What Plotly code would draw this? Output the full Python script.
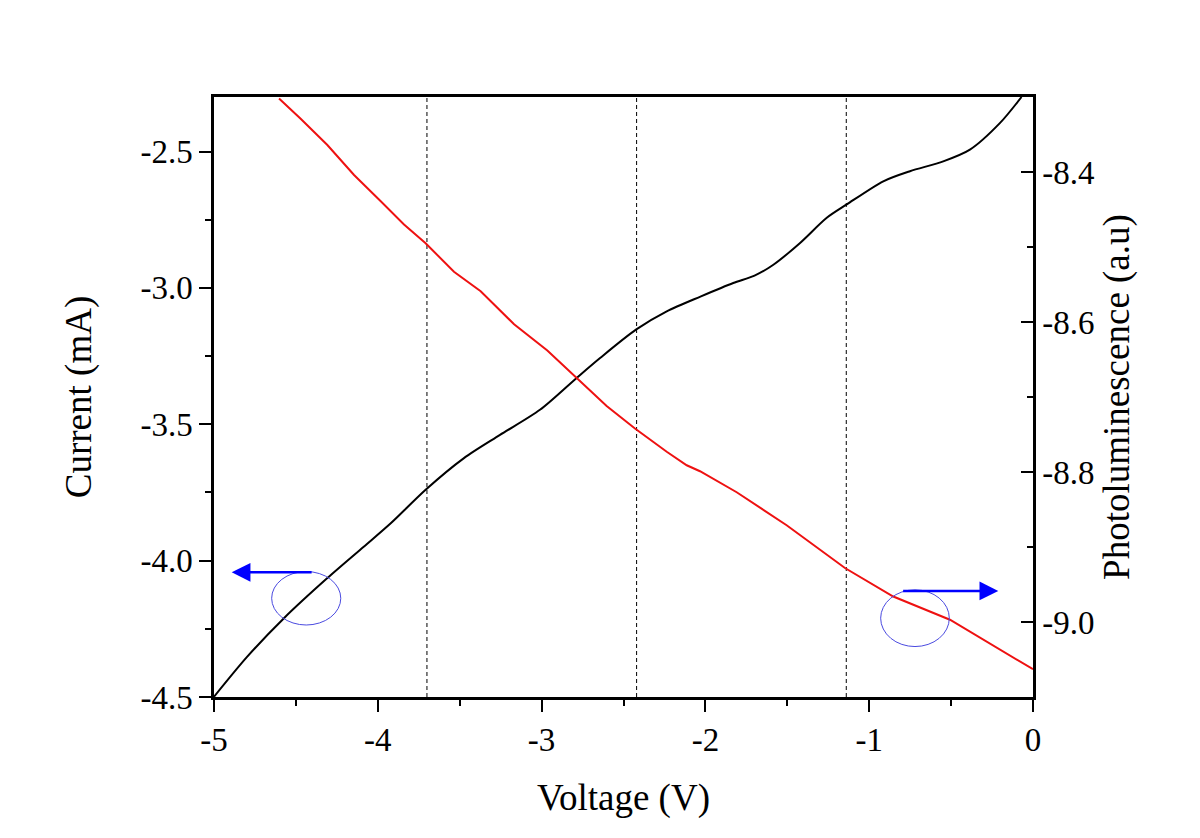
import plotly.graph_objects as go

# Current (left axis) vs voltage
v_current = [-5.0, -4.797, -4.573, -4.308, -4.084, -3.921, -3.708, -3.474, -3.254, -3.010,
             -2.786, -2.643, -2.424, -2.236, -2.027, -1.830, -1.700, -1.585, -1.422, -1.259, -1.137,
             -0.914, -0.751, -0.548, -0.385, -0.201, -0.07]
current = [-4.499, -4.352, -4.211, -4.064, -3.948, -3.863, -3.740, -3.624, -3.539, -3.447,
           -3.330, -3.257, -3.153, -3.086, -3.031, -2.982, -2.955, -2.915, -2.835, -2.743, -2.694,
           -2.609, -2.572, -2.536, -2.493, -2.395, -2.300]

# Photoluminescence (right axis) vs voltage
v_pl = [-4.603, -4.471, -4.308, -4.145, -3.982, -3.840, -3.708, -3.535, -3.372, -3.168,
        -2.965, -2.782, -2.603, -2.430, -2.236, -2.114, -2.033, -1.809, -1.504, -1.148,
        -0.853, -0.507, -0.283, 0.0]
pl = [-8.302, -8.329, -8.364, -8.404, -8.439, -8.470, -8.495, -8.533, -8.559, -8.603,
      -8.638, -8.676, -8.712, -8.742, -8.773, -8.791, -8.799, -8.827, -8.871, -8.928,
      -8.966, -8.997, -9.026, -9.063]

# Dashed reference voltages
v_marks = [-3.70, -2.42, -1.14]

x_ticks = [-5, -4, -3, -2, -1, 0]
x_tick_text = ["-5", "-4", "-3", "-2", "-1", "0"]
y1_ticks = [-4.5, -4.0, -3.5, -3.0, -2.5]
y1_tick_text = ["-4.5", "-4.0", "-3.5", "-3.0", "-2.5"]
y2_ticks = [-9.0, -8.8, -8.6, -8.4]
y2_tick_text = ["-9.0", "-8.8", "-8.6", "-8.4"]

FONT = "Liberation Serif"
TICK_SIZE = 33
TITLE_SIZE = 37

fig = go.Figure()
fig.add_trace(go.Scatter(x=v_current, y=current, mode="lines",
                         line=dict(color="black", width=2, shape="spline", smoothing=0.8),
                         showlegend=False, yaxis="y"))
fig.add_trace(go.Scatter(x=v_pl, y=pl, mode="lines",
                         line=dict(color="#ee1111", width=2),
                         showlegend=False, yaxis="y2"))

for vm in v_marks:
    fig.add_shape(type="line", xref="x", yref="paper", x0=vm, x1=vm, y0=0, y1=1,
                  line=dict(color="black", width=1, dash="4px,3px"), layer="below")

# Ellipses marking curves
fig.add_shape(type="circle", xref="x", yref="y", x0=-4.648, x1=-4.226, y0=-4.236, y1=-4.040,
              line=dict(color="#4a4ae0", width=1))
fig.add_shape(type="circle", xref="x", yref="y", x0=-0.930, x1=-0.511, y0=-4.315, y1=-4.107,
              line=dict(color="#4a4ae0", width=1))

# Arrows
fig.add_annotation(x=-4.892, y=-4.043, ax=-4.395, ay=-4.043, xref="x", yref="y",
                   axref="x", ayref="y", text="", showarrow=True, arrowhead=2,
                   arrowsize=1.5, arrowwidth=2.5, arrowcolor="#0000ff")
fig.add_annotation(x=-0.212, y=-4.111, ax=-0.802, ay=-4.111, xref="x", yref="y",
                   axref="x", ayref="y", text="", showarrow=True, arrowhead=2,
                   arrowsize=1.5, arrowwidth=2.5, arrowcolor="#0000ff")

fig.update_layout(
    width=1200, height=838,
    margin=dict(l=206, r=175, t=89, b=149),
    paper_bgcolor="white", plot_bgcolor="white",
    font=dict(family=FONT, color="black", size=TICK_SIZE),
    xaxis=dict(range=[-5, 0], tickmode="array", tickvals=x_ticks, ticktext=x_tick_text,
               ticks="outside", ticklen=12, tickwidth=2, tickcolor="black",
               showline=True, linecolor="black", linewidth=2.5, mirror=True,
               showgrid=False, zeroline=False,
               minor=dict(tickmode="linear", tick0=-5, dtick=0.5, ticks="outside",
                          ticklen=6, tickwidth=2, tickcolor="black", showgrid=False),
               tickfont=dict(size=TICK_SIZE, family=FONT),
               title=dict(text="Voltage (V)", font=dict(size=TITLE_SIZE, family=FONT), standoff=27)),
    yaxis=dict(range=[-4.5, -2.3], tickmode="array", tickvals=y1_ticks, ticktext=y1_tick_text,
               ticks="outside", ticklen=12, tickwidth=2, tickcolor="black",
               showline=True, linecolor="black", linewidth=2.5,
               showgrid=False, zeroline=False,
               minor=dict(tickmode="linear", tick0=-4.5, dtick=0.25, ticks="outside",
                          ticklen=6, tickwidth=2, tickcolor="black", showgrid=False),
               tickfont=dict(size=TICK_SIZE, family=FONT),
               title=dict(text="Current (mA)", font=dict(size=TITLE_SIZE, family=FONT), standoff=38)),
    yaxis2=dict(range=[-9.1, -8.3], overlaying="y", side="right",
                tickmode="array", tickvals=y2_ticks, ticktext=y2_tick_text,
                ticks="inside", ticklen=12, tickwidth=2, tickcolor="black",
                showline=True, linecolor="black", linewidth=2.5,
                showgrid=False, zeroline=False,
                minor=dict(tickmode="linear", tick0=-9.0, dtick=0.1, ticks="inside",
                           ticklen=6, tickwidth=2, tickcolor="black", showgrid=False),
                tickfont=dict(size=TICK_SIZE, family=FONT),
                title=dict(text="Photoluminescence (a.u)", font=dict(size=TITLE_SIZE, family=FONT),
                           standoff=10)),
)

fig.write_html("out.html")
